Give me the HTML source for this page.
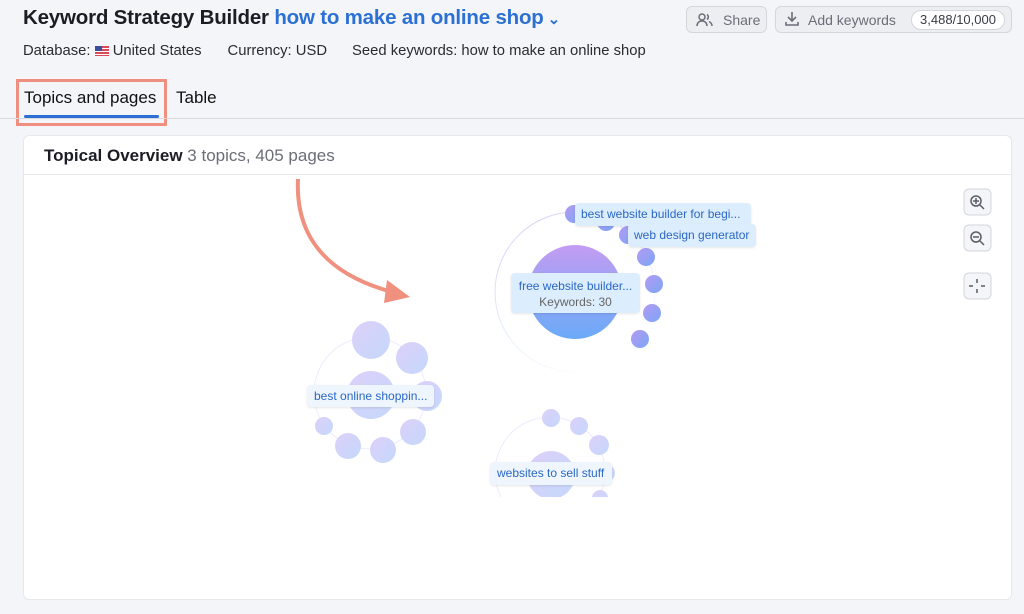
<!DOCTYPE html>
<html><head><meta charset="utf-8"><style>
*{margin:0;padding:0;box-sizing:border-box}
body{width:1024px;height:614px;background:#f4f5f9;font-family:"Liberation Sans",sans-serif;position:relative;overflow:hidden;color:#1c1c24}
.a{position:absolute;white-space:nowrap}
.btn{position:absolute;border:1px solid #d4d6dd;border-radius:6px;background:#eceef2;color:#6b6e78;font-size:14px}
</style></head><body>
<div class="a" style="left:23px;top:6px;font-size:20.5px;font-weight:bold;letter-spacing:-0.2px">Keyword Strategy Builder <span style="color:#2b70d2">how to make an online shop</span><span style="color:#2b70d2;font-size:15px"> ⌄</span></div>
<div class="a" style="left:23px;top:43px;font-size:14.8px;color:#2a2c33">Database: <span style="display:inline-block;width:14px;height:10px;background:repeating-linear-gradient(#d9495a 0 2px,#fff 2px 3px);position:relative;vertical-align:-1px"><span style="position:absolute;left:0;top:0;width:7px;height:5px;background:#3b4d9c"></span></span> United States<span style="margin-left:26px">Currency: USD</span><span style="margin-left:25px">Seed keywords: how to make an online shop</span></div>
<div class="btn" style="left:686px;top:6px;width:81px;height:27px;padding:5px 0 0 36px">Share</div>
<svg class="a" style="left:696px;top:12px" width="18" height="16"><g fill="none" stroke="#6b6e78" stroke-width="1.5"><circle cx="6" cy="5" r="3"/><path d="M1 14c0-3 2-5 5-5s5 2 5 5"/><path d="M11 2.5a3 3 0 0 1 0 5M13 9.5c2 1 3 2.5 3 4.5"/></g></svg>
<div class="btn" style="left:775px;top:6px;width:237px;height:27px;padding:5px 0 0 32px">Add keywords</div>
<svg class="a" style="left:784px;top:11px" width="16" height="16"><g fill="none" stroke="#6b6e78" stroke-width="1.6"><path d="M8 1v9M4 6l4 4 4-4M2 11v3h12v-3"/></g></svg>
<div class="a" style="left:911px;top:10px;width:94px;height:20px;background:#fff;border:1px solid #d4d6dd;border-radius:10px;font-size:13px;color:#3a3c44;text-align:center;line-height:18px">3,488/10,000</div>
<div class="a" style="left:24px;top:88px;font-size:17px;color:#111">Topics and pages</div>
<div class="a" style="left:176px;top:88px;font-size:17px;color:#111">Table</div>
<div class="a" style="left:24px;top:115px;width:135px;height:3px;background:#2b6fd4;border-radius:2px"></div>
<div class="a" style="left:16px;top:79px;width:151px;height:47px;border:3px solid #ef8f80"></div>
<div class="a" style="left:0;top:118px;width:1024px;height:1px;background:#d8dae0"></div>
<div class="a" style="left:23px;top:135px;width:989px;height:465px;background:#fff;border-radius:6px;border:1px solid #e6e8ec"></div>
<div class="a" style="left:23px;top:174px;width:989px;height:1px;background:#e6e8ec"></div>
<div class="a" style="left:44px;top:146px;font-size:17px;font-weight:bold">Topical Overview <span style="font-weight:normal;color:#6b6e78">3 topics, 405 pages</span></div>
<svg class="a" style="left:0;top:0" width="1024" height="614">
<defs>
<linearGradient id="g1" x1="0" y1="0" x2="0" y2="1"><stop offset="0" stop-color="#c39cf2"/><stop offset="1" stop-color="#6aaaf8"/></linearGradient>
<linearGradient id="g2" x1="0" y1="0" x2="1" y2="1"><stop offset="0" stop-color="#b39af2"/><stop offset="1" stop-color="#7ca6f6"/></linearGradient>
<linearGradient id="g3" x1="0" y1="0" x2="1" y2="1"><stop offset="0" stop-color="#ddd0fa"/><stop offset="1" stop-color="#c4d8fa"/></linearGradient>
<linearGradient id="rg" x1="0" y1="0" x2="0.6" y2="1"><stop offset="0" stop-color="#d8c8fa"/><stop offset="0.6" stop-color="#e4eefd"/><stop offset="1" stop-color="#ffffff"/></linearGradient>
<clipPath id="c3"><rect x="400" y="380" width="300" height="117"/></clipPath>
</defs>
<g fill="none" stroke-width="1">
<circle cx="575" cy="292" r="80" stroke="url(#rg)"/>
<circle cx="370" cy="393" r="56" stroke="#eeeafd"/>
</g>
<circle cx="575" cy="292" r="47" fill="url(#g1)"/>
<g fill="url(#g2)"><circle cx="574" cy="214" r="9"/><circle cx="606" cy="222" r="9"/><circle cx="628" cy="235" r="9"/><circle cx="646" cy="257" r="9"/><circle cx="654" cy="284" r="9"/><circle cx="652" cy="313" r="9"/><circle cx="640" cy="339" r="9"/></g>
<g fill="url(#g3)"><circle cx="371" cy="395" r="24"/><circle cx="371" cy="340" r="19"/><circle cx="412" cy="358" r="16"/><circle cx="427" cy="396" r="15"/><circle cx="413" cy="432" r="13"/><circle cx="383" cy="450" r="13"/><circle cx="348" cy="446" r="13"/><circle cx="324" cy="426" r="9"/></g>
<g clip-path="url(#c3)"><circle cx="550" cy="472" r="55" fill="none" stroke="#eeeafd"/><g fill="url(#g3)"><circle cx="551" cy="475" r="24"/><circle cx="551" cy="418" r="9"/><circle cx="579" cy="426" r="9"/><circle cx="599" cy="445" r="10"/><circle cx="606" cy="473" r="9"/><circle cx="600" cy="498" r="8"/></g></g>
<path d="M298 179 C295 240 330 275 392 292" fill="none" stroke="#f0907e" stroke-width="4"/>
<path d="M387 280 L410 297 L384 303 Z" fill="#f0907e"/>
<g stroke="#d3d5dc" fill="#f4f5f8"><rect x="964" y="189" width="27" height="26" rx="5"/><rect x="964" y="225" width="27" height="26" rx="5"/><rect x="964" y="273" width="27" height="26" rx="5"/></g>
<g stroke="#5a5d66" stroke-width="1.5" fill="none"><circle cx="976" cy="201" r="5"/><path d="M980 205l4 4M976 198v6M973 201h6"/><circle cx="976" cy="237" r="5"/><path d="M980 241l4 4M973 237h6"/><path d="M977 279v4M977 289v4M969 286h4M981 286h4"/></g>
</svg>
<div class="a" style="left:575px;top:203px;width:176px;height:23px;background:#dcedfd;border-radius:4px;font-size:12px;color:#2b67c4;padding:4px 6px;box-shadow:0 1px 2px rgba(0,0,0,.1)">best website builder for begi...</div>
<div class="a" style="left:628px;top:224px;width:128px;height:23px;background:#dcedfd;border-radius:4px;font-size:12px;color:#2b67c4;padding:4px 6px;box-shadow:0 1px 2px rgba(0,0,0,.1)">web design generator</div>
<div class="a" style="left:511px;top:273px;width:129px;height:40px;background:#dcedfd;border-radius:4px;font-size:12px;color:#2b67c4;text-align:center;padding-top:5px;line-height:16px;box-shadow:0 1px 2px rgba(0,0,0,.1)">free website builder...<br><span style="color:#666">Keywords: 30</span></div>
<div class="a" style="left:307px;top:385px;width:127px;height:22px;background:#eef5fd;border-radius:4px;font-size:12px;color:#2b67c4;padding:4px 7px;box-shadow:0 1px 2px rgba(0,0,0,.1)">best online shoppin...</div>
<div class="a" style="left:490px;top:462px;width:122px;height:23px;background:#eef5fd;border-radius:4px;font-size:12px;color:#2b67c4;padding:4px 7px;box-shadow:0 1px 2px rgba(0,0,0,.1)">websites to sell stuff</div>
</body></html>
